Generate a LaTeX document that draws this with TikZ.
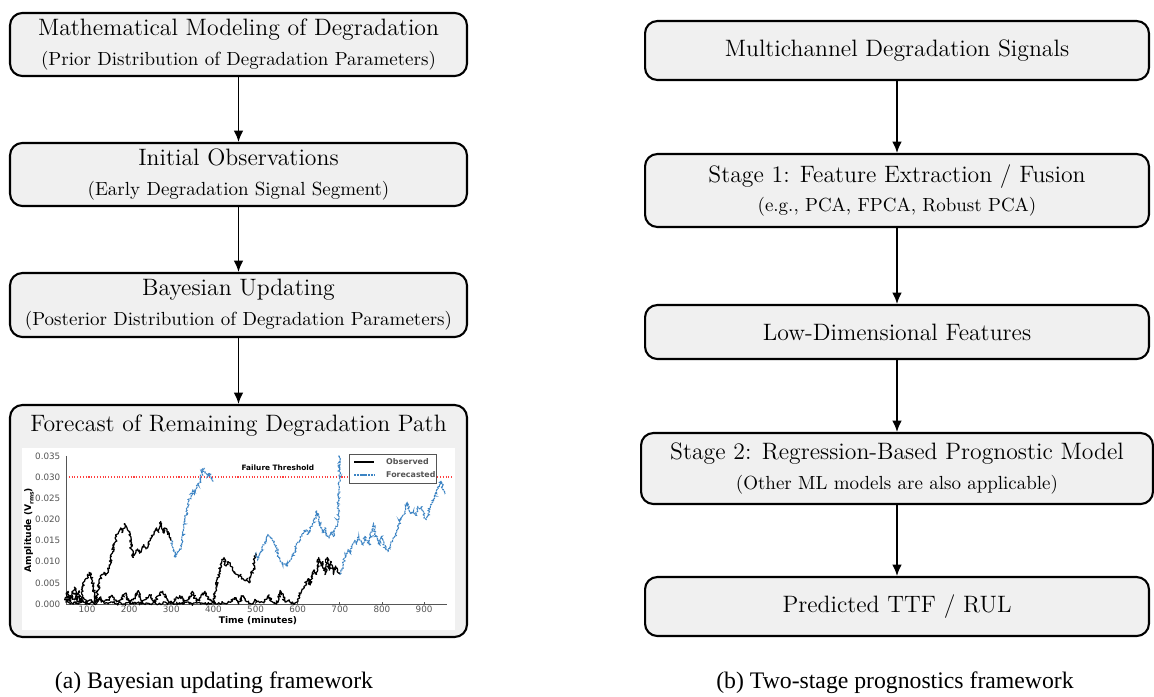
\documentclass[tikz,border=0pt]{standalone}
\usepackage{fontspec}
\newfontfamily\plotfont{DejaVu Sans}
\newfontfamily\capfont{Liberation Serif}
\usetikzlibrary{positioning,arrows.meta,decorations.pathmorphing}
\definecolor{boxgray}{HTML}{F0F0F0}
\definecolor{fcblue}{HTML}{3C84C4}
\definecolor{axgray}{HTML}{555555}
\newcommand{\subline}[1]{{\fontsize{10.8}{13}\selectfont #1}}

\begin{document}
\begin{tikzpicture}[
    x=0.02cm, y=-0.02cm,
    stagebox/.style={draw, line width=1.2pt, rounded corners=7pt, fill=boxgray, align=center,
      font=\fontsize{13.5}{17}\selectfont},
    flow/.style={line width=0.9pt, -{Latex[length=6.5pt,width=5.5pt]}},
    ticklab/.style={font=\plotfont\fontsize{5}{6}\selectfont, text=axgray, inner sep=1pt},
    obsline/.style={black, line width=0.7pt, line join=round, decorate,
      decoration={random steps, segment length=0.6pt, amplitude=0.85pt}},
    fcline/.style={fcblue, line width=0.6pt, dash pattern=on 1.2pt off 0.4pt, decorate,
      decoration={random steps, segment length=0.6pt, amplitude=0.75pt}},
    caption/.style={font=\capfont\fontsize{13.5}{16}\selectfont}
  ]
  \useasboundingbox (0,0) rectangle (1154,697);
  \pgfmathsetseed{4242}

  % (a) Bayesian updating framework
  \node[stagebox, minimum width=9.14cm, minimum height=1.26cm] (model) at (238.5,44.5)
    {Mathematical Modeling of Degradation\\\subline{(Prior Distribution of Degradation Parameters)}};
  \node[stagebox, minimum width=9.14cm, minimum height=1.26cm] (initobs) at (238.5,174.5)
    {Initial Observations\\\subline{(Early Degradation Signal Segment)}};
  \node[stagebox, minimum width=9.14cm, minimum height=1.28cm] (bayes) at (238.5,305)
    {Bayesian Updating\\\subline{(Posterior Distribution of Degradation Parameters)}};
  \node[stagebox, minimum width=9.14cm, minimum height=4.64cm] (forecast) at (238.5,521) {};
  \node[anchor=north, font=\fontsize{13.5}{17}\selectfont] (fctitle) at ([yshift=-0.1cm]forecast.north)
    {Forecast of Remaining Degradation Path};

  \draw[flow] (model) -- (initobs);
  \draw[flow] (initobs) -- (bayes);
  \draw[flow] (bayes) -- (forecast);

  % Forecast plot
  \fill[white] (22,448) rectangle (455,630);
  \draw[red!75, line width=0.6pt, densely dotted] (66,477) -- (452,477);
  \begin{scope}[shift={(44.9,604)}, xscale=0.4213, yscale=-4.229]
    % axes
    \draw[axgray, line width=0.5pt] (50,35) -- (50,0) -- (955,0);
    \foreach \t in {100,200,...,900}
      \draw[axgray, line width=0.4pt] (\t,0) -- (\t,0.5) node[ticklab, anchor=north, yshift=-1pt] {\t};
    \foreach \a/\lab in {0/0.000,5/0.005,10/0.010,15/0.015,20/0.020,25/0.025,30/0.030,35/0.035}
      \draw[axgray, line width=0.4pt] (50,\a) -- (53,\a) (50,\a) node[ticklab, anchor=east, xshift=-2pt] {\lab};

    % observed and forecasted paths
    \draw[obsline] plot coordinates {(50,1)(60,0)(70,0.5)(80,0)(90,1)(100,0)(110,0.3)(120,0)(130,1)(140,0.2)(150,0)(160,0.5)(170,0)(180,0.3)(190,0)(200,0.5)(210,0)(220,0.3)(230,0)(240,0.2)(250,0)(260,0.5)(270,0)(280,0.3)(290,0)(300,0.5)(310,0)(320,0.3)(330,0)(340,0.5)(350,0)(360,0.2)(370,0)(380,0.3)(390,0)(400,0.5)(410,0)(420,0.3)(430,0)(440,0.5)(450,1.5)(460,0)(470,2)(480,0.5)(490,0)(500,1)(510,0.3)(520,0.5)(530,2)(540,0.5)(550,0)(560,3)(570,0.5)(580,1)(590,0)(600,0.5)(605,2)(610,3.5)(615,4)(620,5)(625,6)(630,4.5)(635,7)(640,8)(645,7)(650,11)(655,9)(660,10)(665,7)(670,11)(675,8)(680,10)(685,7)(690,9)(695,8)(700,7)};
    \draw[obsline] plot coordinates {(50,0.5)(60,2)(70,1)(80,0.5)(90,1.5)(100,0.5)(110,1)(120,0.3)(130,1.5)(140,0.5)(150,1)(160,2)(170,0.5)(180,1)(190,2.5)(200,0.5)(210,1)(220,3)(230,0.5)(240,1.5)(250,2)(260,0.5)(270,2)(280,3)(290,1)(300,0.5)(310,1)(320,2)(330,0.5)(340,1)(350,3)(360,0.5)(370,1.5)(380,3)(390,1)(400,0.5)(405,3)(410,6)(415,8)(420,10)(425,11)(430,9)(435,10)(440,9)(445,8)(450,7.5)(455,7)(460,6.5)(465,7)(470,6)(475,5.5)(480,6)(485,5)(490,7)(495,8)(500,12)};
    \draw[obsline] plot coordinates {(50,1)(55,3)(60,0.5)(65,2)(70,4)(75,1)(80,3)(85,0.5)(90,4)(95,5.5)(100,6)(105,7.5)(110,7)(115,4)(120,0.5)(125,3)(130,5)(135,7)(140,7.5)(145,7)(150,8)(155,10)(160,12)(165,14)(170,16)(175,17)(180,18)(185,17)(190,19)(195,18)(200,17)(205,13)(210,11)(215,12)(220,13)(225,12)(230,13)(235,14)(240,13)(245,14)(250,15)(255,16)(260,17)(265,18)(270,17)(275,19.5)(280,17)(285,18)(290,17)(295,16)(300,15)};
    \draw[fcline] plot coordinates {(300,15)(305,13)(310,11)(315,12)(320,13)(325,14)(330,18)(335,21)(340,24)(345,25)(350,27)(355,26)(360,28)(365,28)(370,30)(375,32)(380,31)(385,30)(390,31)(395,30)(400,29)};
    \draw[fcline] plot coordinates {(500,12)(505,10.5)(510,12)(515,13)(520,14)(525,15)(530,16.5)(535,15.5)(540,15)(545,14)(550,13)(555,11)(560,10)(565,9)(570,9.5)(575,9)(580,10)(585,11)(590,12)(595,13)(600,14.5)(605,15)(610,16)(615,17)(620,17.5)(625,16.5)(630,18)(635,19)(640,20)(645,22)(650,20)(655,18)(660,17)(665,18)(670,16)(675,15.5)(680,17)(685,16)(690,18)(695,19)(698,28)(700,35)};
    \draw[fcline] plot coordinates {(700,7)(705,8)(710,10)(715,12)(720,13)(725,12)(730,14)(735,15)(740,14)(745,16)(750,15)(755,14)(760,16)(765,15)(770,14)(775,17)(780,19)(785,16)(790,15)(795,14)(800,16)(805,14)(810,13)(815,12.5)(820,14)(825,15)(830,16)(835,17)(840,19)(845,20)(850,21)(855,22)(860,24)(865,22)(870,21.5)(875,22)(880,21)(885,23)(890,22.5)(895,23)(900,21)(905,20)(910,21)(915,23)(920,24)(925,25)(930,27)(935,28)(940,29)(945,27)(950,26)};

    \node[font=\plotfont\bfseries\fontsize{4.2}{5}\selectfont] (thrlab) at (553,32.3) {Failure Threshold};
  \end{scope}

  % axis labels
  \node[font=\plotfont\bfseries\fontsize{5.2}{6}\selectfont] (xlab) at (258,621) {Time (minutes)};
  \node[font=\plotfont\bfseries\fontsize{5.2}{6}\selectfont, rotate=90] (ylab) at (29,530)
    {Amplitude (V\raisebox{-0.5ex}{\fontsize{3.4}{4}\selectfont rms})};

  % legend
  \node[draw=axgray, fill=white, line width=0.5pt, minimum width=1.74cm, minimum height=0.58cm] (legend) at (392.5,468.5) {};
  \coordinate (obsA) at (354,462);
  \coordinate (obsB) at (374,462);
  \coordinate (fcA) at (354,475);
  \coordinate (fcB) at (374,475);
  \draw[black, line width=0.7pt] (obsA) -- (obsB);
  \draw[fcblue, line width=0.6pt, dash pattern=on 1.2pt off 0.4pt] (fcA) -- (fcB);
  \node[anchor=west, font=\plotfont\bfseries\fontsize{4.5}{5}\selectfont, text=axgray] (obslab) at (380,462) {Observed};
  \node[anchor=west, font=\plotfont\bfseries\fontsize{4.5}{5}\selectfont, text=axgray] (fclab) at (380,475) {Forecasted};

  % (b) Two-stage prognostics framework
  \node[stagebox, minimum width=10.08cm, minimum height=1.18cm] (signals) at (897,50.5)
    {Multichannel Degradation Signals};
  \node[stagebox, minimum width=10.08cm, minimum height=1.46cm] (stageone) at (897,190.5)
    {Stage 1: Feature Extraction / Fusion\\\subline{(e.g., PCA, FPCA, Robust PCA)}};
  \node[stagebox, minimum width=10.08cm, minimum height=1.08cm] (features) at (897,332)
    {Low-Dimensional Features};
  \node[stagebox, minimum width=10.24cm, minimum height=1.42cm, inner xsep=2pt] (stagetwo) at (897,468.5)
    {Stage 2: Regression-Based Prognostic Model\\\subline{(Other ML models are also applicable)}};
  \node[stagebox, minimum width=10.08cm, minimum height=1.18cm] (rul) at (897,606.5)
    {Predicted TTF / RUL};

  \draw[flow] (signals) -- (stageone);
  \draw[flow] (stageone) -- (features);
  \draw[flow] (features) -- (stagetwo);
  \draw[flow] (stagetwo) -- (rul);

  % captions
  \node[caption] (capa) at (214,683) {(a) Bayesian updating framework};
  \node[caption] (capb) at (895,683) {(b) Two-stage prognostics framework};
\end{tikzpicture}
\end{document}
